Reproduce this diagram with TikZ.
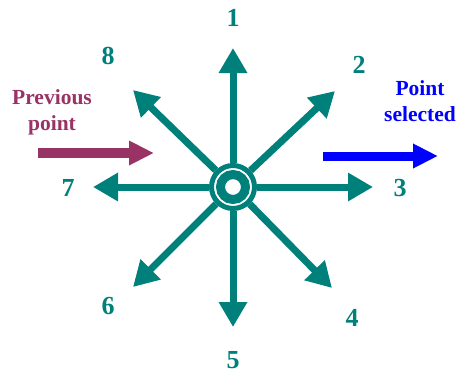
\documentclass[tikz,border=0pt]{standalone}
\usepackage{fontspec}
\setmainfont{Liberation Serif}
\usepackage{xcolor}
\usetikzlibrary{arrows.meta,positioning}
\definecolor{spoketeal}{RGB}{0,128,122}
\definecolor{prevmaroon}{RGB}{153,51,102}
\definecolor{selblue}{RGB}{0,0,255}
\tikzset{
  spoke/.style={
    draw=spoketeal,
    line width=7pt,
    -{Triangle[length=25pt,width=27pt]}
  },
  dirlabel/.style={
    text=spoketeal,
    inner sep=0pt,
    font=\fontsize{26}{28}\selectfont\bfseries
  },
  note/.style={
    align=center,
    inner sep=0pt,
    font=\fontsize{21.5}{26}\selectfont\bfseries
  },
  hubring/.style={
    circle,
    draw=spoketeal,
    fill=white,
    line width=5pt,
    inner sep=0pt,
    minimum size=43pt
  },
  corering/.style={
    circle,
    draw=spoketeal,
    fill=white,
    line width=9pt,
    inner sep=0pt,
    minimum size=25pt
  },
  flowarrow/.style={line width=10pt, -{Triangle[length=25pt,width=23pt]}}
}

\begin{document}
\begin{tikzpicture}[x=1pt,y=-1pt]
  \useasboundingbox (0,0) rectangle (462,376);

  \node[hubring] (hub) at (233,187) {};
  \node[corering] (core) at (hub.center) {};

  % arrow tips of the eight directions
  \coordinate (tip1) at (233,48);
  \coordinate (tip2) at (335,91);
  \coordinate (tip3) at (373,187);
  \coordinate (tip4) at (332,288);
  \coordinate (tip5) at (233,327);
  \coordinate (tip6) at (133,287);
  \coordinate (tip7) at (93,187);
  \coordinate (tip8) at (133,90);

  \draw[spoke] (hub) -- (tip1);
  \draw[spoke] (hub) -- (tip2);
  \draw[spoke] (hub) -- (tip3);
  \draw[spoke] (hub) -- (tip4);
  \draw[spoke] (hub) -- (tip5);
  \draw[spoke] (hub) -- (tip6);
  \draw[spoke] (hub) -- (tip7);
  \draw[spoke] (hub) -- (tip8);

  \node[dirlabel] (lab1) at (233,18) {1};
  \node[dirlabel] (lab2) at (359,65) {2};
  \node[dirlabel] (lab3) at (400,188) {3};
  \node[dirlabel] (lab4) at (352,318) {4};
  \node[dirlabel] (lab5) at (233,360) {5};
  \node[dirlabel] (lab6) at (108,306) {6};
  \node[dirlabel] (lab7) at (68,188) {7};
  \node[dirlabel] (lab8) at (108,56) {8};

  % incoming and outgoing points
  \node[note, text=prevmaroon] (prev) at (52,112) {Previous\\point};
  \coordinate (prevstart) at (38,153);
  \coordinate (prevend) at (154,153);
  \draw[flowarrow, draw=prevmaroon, fill=prevmaroon] (prevstart) -- (prevend);

  \node[note, text=selblue] (sel) at (420,101) {Point\\selected};
  \coordinate (selstart) at (323,156);
  \coordinate (selend) at (438,156);
  \draw[flowarrow, line width=9pt, draw=selblue, fill=selblue] (selstart) -- (selend);
\end{tikzpicture}
\end{document}
